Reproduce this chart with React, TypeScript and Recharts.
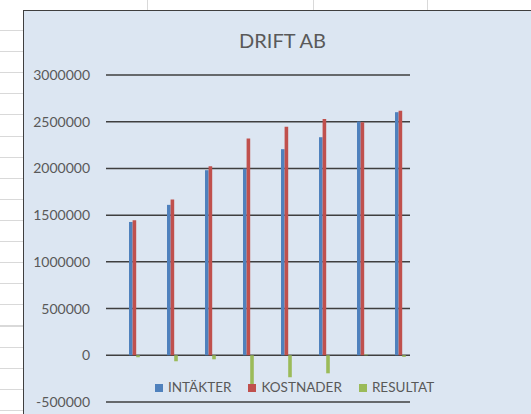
import React from 'react';
import { BarChart, Bar, XAxis, YAxis, CartesianGrid, Legend } from 'recharts';

const periods = ['1', '2', '3', '4', '5', '6', '7', '8'];
const intakter = [1427000, 1610000, 1981000, 1999000, 2206000, 2334000, 2502000, 2602000];
const kostnader = [1445000, 1668000, 2024000, 2320000, 2446000, 2529000, 2494000, 2618000];
const resultat = [-21000, -64000, -43000, -323000, -235000, -193000, 8000, -17000];
const yTicks = [-500000, 0, 500000, 1000000, 1500000, 2000000, 2500000, 3000000];

const series = [
  { key: 'intakter', name: 'INTÄKTER', color: '#4f81bd' },
  { key: 'kostnader', name: 'KOSTNADER', color: '#c0504d' },
  { key: 'resultat', name: 'RESULTAT', color: '#9bbb59' },
];

const data = periods.map((p, i) => ({
  period: p,
  intakter: intakter[i],
  kostnader: kostnader[i],
  resultat: resultat[i],
}));

const FONT = 'Lato, "Open Sans", sans-serif';
const TEXT = '#595959';

const LegendRow = () => (
  <div style={{ display: 'flex', alignItems: 'center', fontFamily: FONT, fontSize: 13.5, color: TEXT, lineHeight: '15px', whiteSpace: 'nowrap' }}>
    {series.map((s) => (
      <div key={s.key} style={{ display: 'flex', alignItems: 'center', marginRight: 17 }}>
        <div style={{ width: 8, height: 8, background: s.color, marginRight: 5 }} />
        <span>{s.name}</span>
      </div>
    ))}
  </div>
);

export default function App() {
  return (
    <div style={{ position: 'absolute', left: 0, top: 0, width: 531, height: 414, overflow: 'hidden', background: '#fff' }}>
      {/* spreadsheet grid behind the chart */}
      <div
        style={{
          position: 'absolute', left: 0, top: 0, width: 531, height: 414,
          backgroundImage: 'repeating-linear-gradient(to bottom, transparent 0px, transparent 20px, #d9d9d9 20px, #d9d9d9 21.1px)',
          backgroundPosition: '0 10px',
        }}
      />
      {[147, 313, 427].map((x) => (
        <div key={x} style={{ position: 'absolute', left: x, top: 0, width: 1, height: 10, background: '#d9d9d9' }} />
      ))}
      <div
        style={{
          position: 'absolute', left: 23, top: 10, width: 520, height: 420,
          background: '#dce6f2', borderTop: '1px solid #3f3f3f', borderLeft: '1px solid #3f3f3f',
        }}
      >
        <div style={{ position: 'absolute', left: 0, top: 17, width: 517, textAlign: 'center', fontFamily: FONT, fontSize: 20, color: TEXT }}>
          DRIFT AB
        </div>
        <BarChart
          width={507}
          height={403}
          data={data}
          margin={{ top: 64, right: 121, bottom: 12, left: 0 }}
          barGap={0}
          barSize={3.6}
        >
          <CartesianGrid vertical={false} stroke="#3f3f3f" strokeWidth={1.5} />
          <XAxis dataKey="period" hide padding={{ left: 9, right: -9 }} />
          <YAxis
            domain={[-500000, 3000000]}
            ticks={yTicks}
            interval={0}
            width={82}
            axisLine={false}
            tickLine={false}
            tickSize={0}
            tickMargin={16}
            tick={{ fill: TEXT, fontSize: 14, fontFamily: FONT }}
          />
          <Legend
            layout="vertical"
            align="center"
            verticalAlign="middle"
            wrapperStyle={{ left: 131, top: 369, width: 'auto' }}
            content={() => <LegendRow />}
          />
          {series.map((s) => (
            <Bar key={s.key} dataKey={s.key} name={s.name} fill={s.color} isAnimationActive={false} />
          ))}
        </BarChart>
      </div>
    </div>
  );
}
